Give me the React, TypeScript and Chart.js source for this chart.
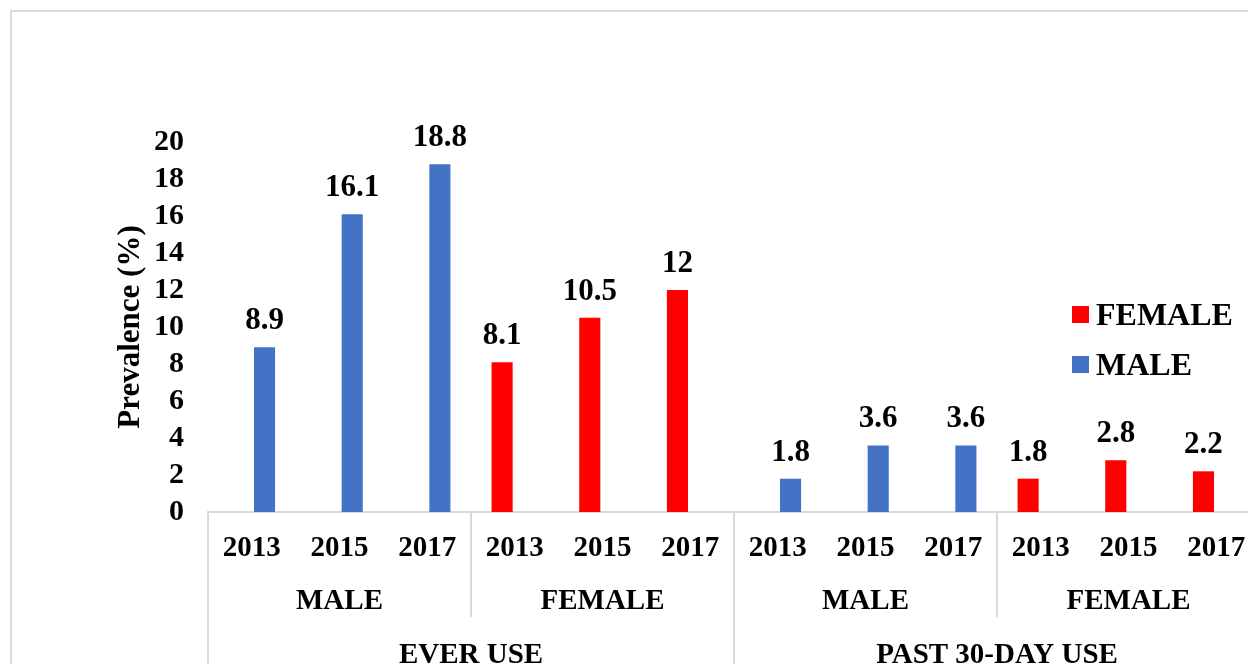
import React, { useEffect, useRef } from "react";
import { Chart, registerables } from "chart.js";

Chart.register(...registerables);

const years = ["2013", "2015", "2017", "2013", "2015", "2017", "2013", "2015", "2017", "2013", "2015", "2017"];
const sexGroups = ["MALE", "FEMALE", "MALE", "FEMALE"];
const useGroups = ["EVER USE", "PAST 30-DAY USE"];
const maleValues = [8.9, 16.1, 18.8, null, null, null, 1.8, 3.6, 3.6, null, null, null];
const femaleValues = [null, null, null, 8.1, 10.5, 12, null, null, null, 1.8, 2.8, 2.2];
const yTicks = [0, 2, 4, 6, 8, 10, 12, 14, 16, 18, 20];

const FONT = "'Liberation Serif', 'Times New Roman', serif";
const BLUE = "#4472C4";
const RED = "#FF0000";
const LINE = "#d9d9d9";

const groupAxisPlugin = {
  id: "groupAxis",
  afterDraw(chart: any) {
    const { ctx, chartArea } = chart;
    const x = chart.scales.x;
    const n = years.length;
    const cw = (x.right - x.left) / n;
    const base = chartArea.bottom;
    const bottomY = chart.height;
    ctx.save();
    ctx.strokeStyle = LINE;
    ctx.lineWidth = 2;
    for (let k = 0; k <= n; k += 3) {
      const px = Math.round(x.left + k * cw);
      const full = k % 6 === 0;
      ctx.beginPath();
      ctx.moveTo(px, base);
      ctx.lineTo(px, full ? bottomY : 617);
      ctx.stroke();
    }
    ctx.fillStyle = "#000";
    ctx.textAlign = "center";
    ctx.textBaseline = "alphabetic";
    ctx.font = `bold 29px ${FONT}`;
    sexGroups.forEach((g, i) => {
      const cx = x.left + (i * 3 + 1.5) * cw;
      ctx.fillText(g, cx, 609);
    });
    useGroups.forEach((g, i) => {
      const cx = x.left + (i * 6 + 3) * cw;
      ctx.fillText(g, cx, 663);
    });
    ctx.restore();
  },
};

const dataLabelPlugin = {
  id: "dataLabels",
  afterDatasetsDraw(chart: any) {
    const { ctx } = chart;
    ctx.save();
    ctx.fillStyle = "#000";
    ctx.textAlign = "center";
    ctx.textBaseline = "alphabetic";
    ctx.font = `bold 31px ${FONT}`;
    chart.data.datasets.forEach((ds: any, di: number) => {
      const meta = chart.getDatasetMeta(di);
      meta.data.forEach((bar: any, i: number) => {
        const v = ds.data[i];
        if (v === null || v === undefined) return;
        ctx.fillText(String(v), bar.x, bar.y - 18);
      });
    });
    ctx.restore();
  },
};

const legendPlugin = {
  id: "customLegend",
  afterDraw(chart: any) {
    const { ctx } = chart;
    ctx.save();
    ctx.font = `bold 32px ${FONT}`;
    ctx.textAlign = "left";
    ctx.textBaseline = "alphabetic";
    chart.data.datasets.forEach((ds: any, i: number) => {
      const baseY = 325 + i * 50;
      ctx.fillStyle = ds.backgroundColor;
      ctx.fillRect(1072, baseY - 19, 17, 17);
      ctx.fillStyle = "#000";
      ctx.fillText(ds.label, 1096, baseY);
    });
    ctx.restore();
  },
};

export default function App() {
  const ref = useRef<HTMLCanvasElement | null>(null);
  useEffect(() => {
    if (!ref.current) return;
    const chart = new Chart(ref.current, {
      type: "bar",
      data: {
        labels: years,
        datasets: [
          {
            label: "FEMALE",
            data: femaleValues,
            backgroundColor: RED,
            categoryPercentage: 0.58,
            barPercentage: 0.83,
          },
          {
            label: "MALE",
            data: maleValues,
            backgroundColor: BLUE,
            categoryPercentage: 0.58,
            barPercentage: 0.83,
          },
        ],
      },
      options: {
        animation: false,
        responsive: true,
        maintainAspectRatio: false,
        layout: { padding: { top: 142, left: 0, right: 40, bottom: 0 } },
        plugins: { legend: { display: false }, tooltip: { enabled: false } },
        scales: {
          x: {
            grid: { display: false, drawTicks: false },
            border: { display: true, color: LINE, width: 2 },
            ticks: {
              color: "#000",
              font: { family: FONT, size: 29, weight: "bold" },
              padding: 19,
              maxRotation: 0,
              autoSkip: false,
            },
            afterFit(scale: any) {
              scale.height = 700 - 512;
            },
          },
          y: {
            min: 0,
            max: 20,
            afterBuildTicks(scale: any) {
              scale.ticks = yTicks.map((v) => ({ value: v }));
            },
            grid: { display: false, drawTicks: false },
            border: { display: false },
            ticks: {
              color: "#000",
              font: { family: FONT, size: 30, weight: "bold" },
              padding: 24,
              autoSkip: false,
            },
            title: {
              display: true,
              text: "Prevalence (%)",
              color: "#000",
              font: { family: FONT, size: 31, weight: "bold" },
              padding: { top: 112, bottom: 0 },
            },
            afterFit(scale: any) {
              scale.width = 208;
            },
          },
        },
      },
      plugins: [groupAxisPlugin, dataLabelPlugin, legendPlugin],
    });
    return () => chart.destroy();
  }, []);

  return (
    <div style={{ position: "fixed", left: 0, top: 0, width: 1248, height: 664, overflow: "hidden", background: "#fff" }}>
      <div
        style={{
          position: "absolute",
          left: 10,
          top: 10,
          width: 1400,
          height: 800,
          border: `2px solid ${LINE}`,
          boxSizing: "border-box",
        }}
      />
      <div style={{ position: "absolute", left: 0, top: 0, width: 1300, height: 700 }}>
        <canvas ref={ref} />
      </div>
    </div>
  );
}
